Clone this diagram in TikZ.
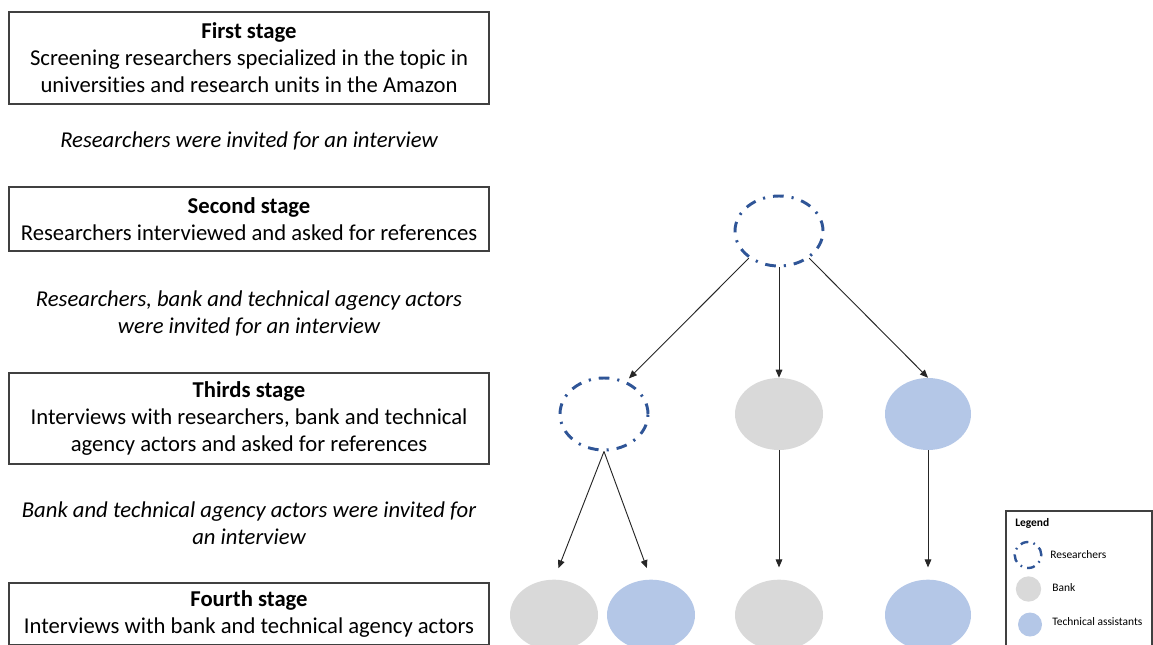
\documentclass[tikz,border=0pt]{standalone}
\usepackage{fontspec}
\setmainfont[Ligatures=NoCommon]{Carlito}
\usetikzlibrary{shapes.geometric,arrows.meta}
\definecolor{resblue}{HTML}{2F5597}
\definecolor{bankgray}{HTML}{D9D9D9}
\definecolor{techblue}{HTML}{B4C7E7}
\definecolor{framegray}{HTML}{404040}
\begin{document}
\begin{tikzpicture}[x=0.75pt,y=-0.75pt,
  stagebox/.style={draw=framegray, line width=0.8pt, minimum width=360pt,
    inner sep=0pt, align=center, font=\fontsize{17}{20.25}\selectfont},
  note/.style={align=center, inner sep=0pt, font=\fontsize{17}{20.25}\selectfont\itshape},
  actor/.style={ellipse, inner sep=0pt, minimum width=66pt, minimum height=53pt},
  resnode/.style={actor, draw=resblue, line width=2.2pt,
    dash pattern=on 8pt off 6pt on 1.6pt off 6pt},
  banknode/.style={actor, fill=bankgray},
  technode/.style={actor, fill=techblue},
  link/.style={draw=black!85, line width=0.7pt, -{Triangle[length=6pt,width=5pt]}},
  legtext/.style={anchor=west, inner sep=0pt, font=\fontsize{8.6}{10}\selectfont}
]
\clip (0,0) rectangle (1153,644);

% stages on the left
\node[stagebox, minimum height=69pt] (s1) at (249,58)
  {{\bfseries First stage}\\Screening researchers specialized in the topic in\\universities and research units in the Amazon};
\node[note] (n1) at (249,141) {Researchers were invited for an interview};
\node[stagebox, minimum height=48pt] (s2) at (249,219)
  {{\bfseries Second stage}\\Researchers interviewed and asked for references};
\node[note] (n2) at (249,313.5) {Researchers, bank and technical agency actors\\were invited for an interview};
\node[stagebox, minimum height=68.25pt] (s3) at (249,418.5)
  {{\bfseries Thirds stage}\\Interviews with researchers, bank and technical\\agency actors and asked for references};
\node[note] (n3) at (249,523.5) {Bank and technical agency actors were invited for\\an interview};
\node[stagebox, minimum height=46.5pt] (s4) at (249,614)
  {{\bfseries Fourth stage}\\Interviews with bank and technical agency actors};

% snowball tree
\node[resnode, minimum height=52.5pt] (top) at (779,231) {};
\node[resnode, minimum height=54pt] (r2) at (604,414) {};
\node[banknode, minimum height=54pt] (b2) at (779,414) {};
\node[technode, minimum height=54pt, minimum width=64.5pt] (t2) at (928,414) {};
\node[banknode] (b3a) at (554,615) {};
\node[technode] (t3a) at (651,615) {};
\node[banknode] (b3b) at (779,615) {};
\node[technode, minimum width=64.5pt] (t3b) at (928,615) {};

\draw[link, shorten >=3pt] (top.222) -- (r2.56);
\draw[link] (top.south) -- (b2.north);
\draw[link] (top.-42) -- (t2.north);
\draw[link, shorten >=9pt] (r2.south) -- (b3a.north);
\draw[link, shorten >=9pt] (r2.south) -- (t3a.north);
\draw[link, shorten >=9pt] (b2.south) -- (b3b.north);
\draw[link, shorten >=9pt] (t2.south) -- (t3b.north);

% legend
\draw[framegray, line width=0.8pt] (1006,700) -- (1006,511) -- (1152,511) -- (1152,700);
\node[legtext, font=\fontsize{8.6}{10}\selectfont\bfseries] (lg) at (1015,523) {Legend};
\node[ellipse, inner sep=0pt, minimum width=20pt, minimum height=19.5pt, draw=resblue,
  line width=1.8pt, dash pattern=on 6pt off 4pt on 1.2pt off 4pt] (lr) at (1028,555) {};
\node[circle, inner sep=0pt, minimum size=19pt, fill=bankgray] (lb) at (1028.5,589) {};
\node[circle, inner sep=0pt, minimum size=18pt, fill=techblue] (lt) at (1030,624.5) {};
\node[legtext] (lrt) at (1050,555) {Researchers};
\node[legtext] (lbt) at (1052,588) {Bank};
\node[legtext] (ltt) at (1052,622) {Technical assistants};
\end{tikzpicture}
\end{document}
